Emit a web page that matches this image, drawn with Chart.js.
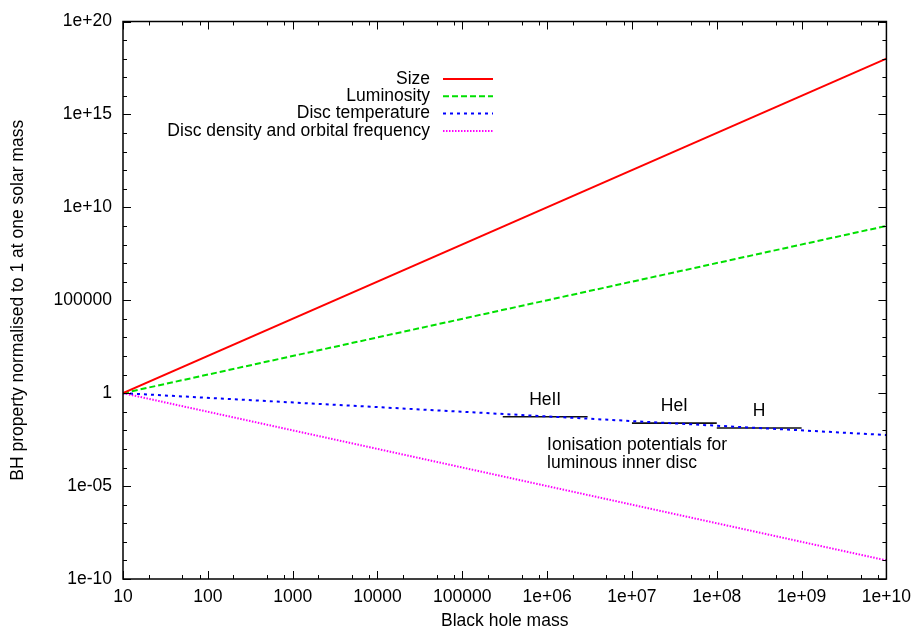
<!DOCTYPE html>
<html>
<head>
<meta charset="utf-8">
<script src="https://cdn.jsdelivr.net/npm/chart.js@4.4.0/dist/chart.umd.min.js"></script>
<style>
  html, body { margin: 0; padding: 0; background: #fff; }
  #wrap { width: 919px; height: 636px; }
</style>
</head>
<body>
<div id="wrap"><canvas id="bhChart" width="919" height="636"></canvas></div>
<script>
// black hole mass range (both ends of every line)
const masses = [10, 1e10];
const sizeVals = [1, 1e18];
const lumVals = [1, 1e9];
const tempVals = [1, 0.0056];
const densVals = [1, 1e-9];

const seriesNames = ['Size', 'Luminosity', 'Disc temperature', 'Disc density and orbital frequency'];

// ionisation potentials (horizontal bars)
const ionNames = ['HeII', 'HeI', 'H'];
const ionFrom = [3e5, 1e7, 1e8];
const ionTo = [3e6, 1e8, 1e9];
const ionLevel = [0.054, 0.0245, 0.0134];
const ionCaption = ['Ionisation potentials for', 'luminous inner disc'];

const xMajor = [10, 100, 1e3, 1e4, 1e5, 1e6, 1e7, 1e8, 1e9, 1e10];
const xTickLabels = ['10', '100', '1000', '10000', '100000', '1e+06', '1e+07', '1e+08', '1e+09', '1e+10'];
const yMajor = [1e-10, 1e-5, 1, 1e5, 1e10, 1e15, 1e20];
const yTickLabels = ['1e-10', '1e-05', '1', '100000', '1e+10', '1e+15', '1e+20'];

const FONT = "'Liberation Sans', Arial, Helvetica, sans-serif";
const FS = 17.5;

const pts = (xs, ys) => xs.map((x, i) => ({ x: x, y: ys[i] }));

let datasets = [
    { label: seriesNames[0], data: pts(masses, sizeVals), borderColor: '#ff0000', borderWidth: 2 },
    { label: seriesNames[1], data: pts(masses, lumVals), borderColor: '#00e000', borderWidth: 2, borderDash: [6, 3] },
    { label: seriesNames[2], data: pts(masses, tempVals), borderColor: '#0000ff', borderWidth: 2, borderDash: [3, 4] },
    { label: seriesNames[3], data: pts(masses, densVals), borderColor: '#ff00ff', borderWidth: 2, borderDash: [1.5, 1.5] }
];

for (let i = 0; i < ionNames.length; i++) {
    datasets.push({
        label: ionNames[i],
        data: [{ x: ionFrom[i], y: ionLevel[i] }, { x: ionTo[i], y: ionLevel[i] }],
        borderColor: '#111',
        borderWidth: 1.6
    });
}

// box with inward ticks on all four sides, gnuplot style
const frameTicks = {
    id: 'frameTicks',
    afterDatasetsDraw: (chart) => {
        const c = chart.ctx;
        const { left, right, top, bottom } = chart.chartArea;
        const xs = chart.scales.x, ys = chart.scales.y;
        c.save();
        c.strokeStyle = '#000';
        c.lineWidth = 1.5;
        c.strokeRect(left, top, right - left, bottom - top);
        c.lineWidth = 1;
        c.beginPath();
        for (let d = 1; d <= 10; d++) {
            const base = Math.pow(10, d);
            const mults = d < 10 ? [1, 2, 5, 8] : [1];
            mults.forEach(m => {
                const px = Math.round(xs.getPixelForValue(base * m)) + 0.5;
                const len = m === 1 ? 8 : 4;
                c.moveTo(px, bottom); c.lineTo(px, bottom - len);
                c.moveTo(px, top); c.lineTo(px, top + len);
            });
        }
        for (let e = -10; e <= 20; e++) {
            const py = Math.round(ys.getPixelForValue(Math.pow(10, e))) + 0.5;
            const len = e % 5 === 0 ? 8 : 4;
            c.moveTo(left, py); c.lineTo(left + len, py);
            c.moveTo(right, py); c.lineTo(right - len, py);
        }
        c.stroke();
        c.restore();
    }
};

// legend with the sample line to the right of the text
const sideLegend = {
    id: 'sideLegend',
    afterDraw: (chart) => {
        const c = chart.ctx;
        c.save();
        c.font = FS + 'px ' + FONT;
        c.textAlign = 'right';
        c.textBaseline = 'middle';
        for (let i = 0; i < 4; i++) {
            const ds = chart.data.datasets[i];
            const y = 79 + i * 17.3;
            c.fillStyle = '#000';
            c.fillText(ds.label, 430, y);
            c.strokeStyle = ds.borderColor;
            c.lineWidth = ds.borderWidth;
            c.setLineDash(ds.borderDash || []);
            c.beginPath();
            c.moveTo(443, y);
            c.lineTo(493, y);
            c.stroke();
        }
        c.restore();
    }
};

// labels for the ionisation bars
const ionLabels = {
    id: 'ionLabels',
    afterDraw: (chart) => {
        const c = chart.ctx;
        const xs = chart.scales.x, ys = chart.scales.y;
        c.save();
        c.font = FS + 'px ' + FONT;
        c.fillStyle = '#000';
        c.textBaseline = 'middle';
        c.textAlign = 'center';
        for (let i = 0; i < ionNames.length; i++) {
            const mid = Math.sqrt(ionFrom[i] * ionTo[i]);
            c.fillText(ionNames[i], xs.getPixelForValue(mid), ys.getPixelForValue(ionLevel[i]) - 17);
        }
        c.textAlign = 'left';
        const cx = xs.getPixelForValue(1e6);
        const cy = ys.getPixelForValue(ionLevel[2]);
        c.fillText(ionCaption[0], cx, cy + 17);
        c.fillText(ionCaption[1], cx, cy + 35);
        c.restore();
    }
};

const config = {
    type: 'line',
    data: { datasets: datasets },
    options: {
        responsive: false,
        animation: false,
        devicePixelRatio: 1,
        layout: { padding: { top: 14, right: 32, left: 0, bottom: 0 } },
        elements: { point: { radius: 0 }, line: { tension: 0 } },
        plugins: { legend: { display: false }, tooltip: { enabled: false } },
        scales: {
            x: {
                type: 'logarithmic',
                min: 10,
                max: 1e10,
                afterBuildTicks: (scale) => { scale.ticks = xMajor.map(v => ({ value: v })); },
                afterFit: (scale) => { scale.height = 57; },
                grid: { display: false, drawTicks: false },
                border: { display: false },
                ticks: {
                    autoSkip: false,
                    maxRotation: 0,
                    padding: 8,
                    color: '#000',
                    font: { family: FONT, size: FS },
                    callback: (v, i) => xTickLabels[i]
                },
                title: {
                    display: true,
                    text: 'Black hole mass',
                    color: '#000',
                    font: { family: FONT, size: FS },
                    padding: { top: 0, bottom: 4.5 }
                }
            },
            y: {
                type: 'logarithmic',
                min: 1e-10,
                max: 1e20,
                afterBuildTicks: (scale) => { scale.ticks = yMajor.map(v => ({ value: v })); },
                afterFit: (scale) => { scale.width = 123; },
                grid: { display: false, drawTicks: false },
                border: { display: false },
                ticks: {
                    autoSkip: false,
                    padding: 11,
                    color: '#000',
                    font: { family: FONT, size: FS },
                    callback: (v, i) => yTickLabels[i]
                },
                title: {
                    display: true,
                    text: 'BH property normalised to 1 at one solar mass',
                    color: '#000',
                    font: { family: FONT, size: FS },
                    padding: { top: 7.5, bottom: 0 }
                }
            }
        }
    },
    plugins: [frameTicks, sideLegend, ionLabels]
};

const bhChart = new Chart(document.getElementById('bhChart').getContext('2d'), config);
</script>
</body>
</html>
